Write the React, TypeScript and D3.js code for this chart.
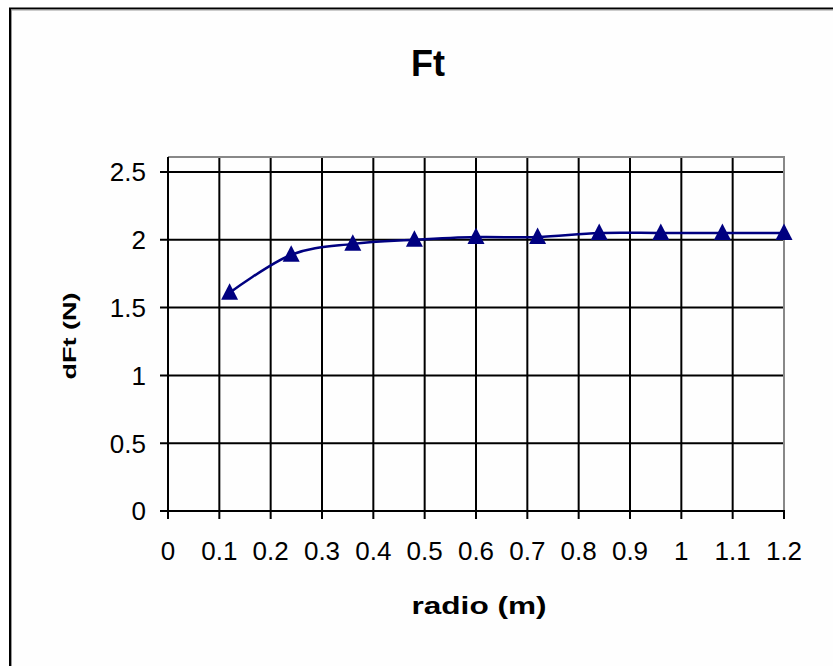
import React from "react";
import * as d3 from "d3";

const radio = [0.12, 0.24, 0.36, 0.48, 0.6, 0.72, 0.84, 0.96, 1.08, 1.2];
const dFt = [1.61, 1.89, 1.97, 2.0, 2.02, 2.02, 2.05, 2.05, 2.05, 2.05];
const xTicks = [0, 0.1, 0.2, 0.3, 0.4, 0.5, 0.6, 0.7, 0.8, 0.9, 1, 1.1, 1.2];
const yTicks = [0, 0.5, 1, 1.5, 2, 2.5];
const title = "Ft";
const xTitle = "radio (m)";
const yTitle = "dFt (N)";

const W = 833;
const H = 666;
const plotLeft = 168;
const plotRight = 784;
const plotTop = 157;
const plotBottom = 511;
const FONT = "'Liberation Sans', Arial, sans-serif";
const NAVY = "#000080";

export default function App() {
  const x = d3.scaleLinear().domain([0, 1.2]).range([plotLeft, plotRight]);
  const y = d3.scaleLinear().domain([0, 2.5]).range([plotBottom, 172]);
  const pts: [number, number][] = radio.map((r, i) => [r, dFt[i]]);
  const line = d3
    .line<[number, number]>()
    .x((d) => x(d[0]))
    .y((d) => y(d[1]))
    .curve(d3.curveCardinal.tension(0));
  const tri = "M0,-9.5 L8.5,7 L-8.5,7 Z";

  return (
    <div style={{ position: "fixed", left: 0, top: 0, width: W, height: H, background: "#fff" }}>
      <svg width={W} height={H} style={{ display: "block" }}>
        <rect x={0} y={0} width={W} height={H} fill="#fff" />
        {/* chart area border */}
        <rect x={10} y={8.5} width={W + 20} height={H + 20} fill="#fefefe" stroke="#000" strokeWidth={2} />
        <path d={`M11.5,${H}V10H${W}`} fill="none" stroke="#999" strokeWidth={1} />
        {/* title */}
        <text x={428} y={76} textAnchor="middle" fontFamily={FONT} fontWeight="bold" fontSize={36}>
          {title}
        </text>
        {/* horizontal gridlines */}
        {yTicks.map((t) => (
          <line key={"hy" + t} x1={160} x2={plotRight} y1={y(t)} y2={y(t)} stroke="#000" strokeWidth={2} />
        ))}
        {/* vertical gridlines */}
        {xTicks.map((t) => (
          <line key={"vx" + t} x1={x(t)} x2={x(t)} y1={plotTop} y2={519} stroke="#000" strokeWidth={2} />
        ))}
        {/* plot area top/right border */}
        <path
          d={`M${plotLeft},${plotTop}H${plotRight}V${plotBottom - 1}`}
          fill="none"
          stroke="#888"
          strokeWidth={2}
        />
        {/* axes */}
        <line x1={plotLeft} x2={plotLeft} y1={plotTop} y2={plotBottom + 1} stroke="#000" strokeWidth={2} />
        <line x1={160} x2={plotRight} y1={plotBottom} y2={plotBottom} stroke="#000" strokeWidth={2} />
        {/* y tick labels */}
        {yTicks.map((t) => (
          <text
            key={"ly" + t}
            x={146}
            y={y(t)}
            dy="0.36em"
            textAnchor="end"
            fontFamily={FONT}
            fontSize={26}
          >
            {String(t)}
          </text>
        ))}
        {/* x tick labels */}
        {xTicks.map((t) => (
          <text
            key={"lx" + t}
            x={x(t)}
            y={560}
            textAnchor="middle"
            fontFamily={FONT}
            fontSize={26}
          >
            {String(t)}
          </text>
        ))}
        {/* axis titles */}
        <text
          x={479}
          y={614}
          textAnchor="middle"
          fontFamily={FONT}
          fontWeight="bold"
          fontSize={23}
          textLength={135}
          lengthAdjust="spacingAndGlyphs"
        >
          {xTitle}
        </text>
        <text
          transform={`translate(76,336) rotate(-90)`}
          textAnchor="middle"
          fontFamily={FONT}
          fontWeight="bold"
          fontSize={18}
          textLength={87}
          lengthAdjust="spacingAndGlyphs"
        >
          {yTitle}
        </text>
        {/* series */}
        <path d={line(pts) || ""} fill="none" stroke={NAVY} strokeWidth={2.5} />
        {pts.map((p, i) => (
          <path key={"m" + i} d={tri} transform={`translate(${x(p[0])},${y(p[1])})`} fill={NAVY} />
        ))}
      </svg>
    </div>
  );
}
